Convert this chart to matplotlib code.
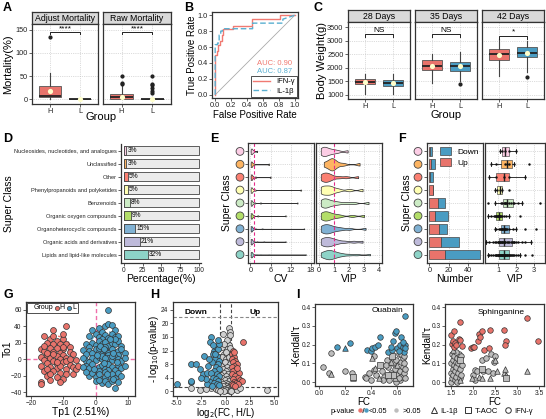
import numpy as np
import matplotlib
matplotlib.use("Agg")
import matplotlib.pyplot as plt
import matplotlib.transforms as mtransforms
from matplotlib.lines import Line2D
from matplotlib.patches import Ellipse
from matplotlib.legend_handler import HandlerTuple

plt.rcParams["font.family"] = ["Liberation Sans", "DejaVu Sans"]
plt.rcParams["font.size"] = 6

# ---------------- data ----------------
# A: mortality box summaries (H, L)
adjust_stats = [dict(whislo=0, q1=6, med=7, q3=28, whishi=57, fliers=[135], mean=19),
                dict(whislo=0, q1=0, med=0, q3=0, whishi=0, fliers=[], mean=0)]
raw_stats = [dict(whislo=0, q1=0.5, med=5, q3=11, whishi=29, fliers=[32, 35, 50], mean=5),
             dict(whislo=0, q1=0, med=0, q3=0, whishi=0, fliers=[14, 18, 25, 30, 33, 50], mean=1)]
mort_sig = ["****", "****"]

# B: ROC curves
ifn_fpr = [0, 0, 0.02, 0.02, 0.04, 0.04, 0.06, 0.06, 0.08, 0.08, 0.10, 0.10, 0.22, 0.22, 0.46, 0.46, 0.82, 0.82, 1.0]
ifn_tpr = [0, 0.50, 0.50, 0.55, 0.55, 0.62, 0.62, 0.68, 0.68, 0.75, 0.75, 0.83, 0.83, 0.87, 0.87, 0.95, 0.95, 1.0, 1.0]
il_fpr = [0, 0, 0.03, 0.03, 0.05, 0.05, 0.07, 0.07, 0.09, 0.09, 0.47, 0.47, 0.85, 0.85, 1.0]
il_tpr = [0, 0.63, 0.63, 0.65, 0.65, 0.75, 0.75, 0.80, 0.80, 0.83, 0.83, 0.90, 0.90, 0.95, 1.0]
auc_ifn, auc_il = 0.90, 0.87

# C: body weight box summaries per day (H, L)
days = ["28 Days", "35 Days", "42 Days"]
bw_stats = [
    [dict(whislo=1050, q1=1400, med=1480, q3=1600, whishi=1780, fliers=[], mean=1490),
     dict(whislo=1050, q1=1340, med=1450, q3=1560, whishi=1780, fliers=[], mean=1450)],
    [dict(whislo=1450, q1=1920, med=2070, q3=2270, whishi=2500, fliers=[], mean=2080),
     dict(whislo=1500, q1=1900, med=2050, q3=2220, whishi=2580, fliers=[1420], mean=2060)],
    [dict(whislo=1700, q1=2280, med=2500, q3=2680, whishi=3050, fliers=[], mean=2490),
     dict(whislo=1850, q1=2400, med=2560, q3=2750, whishi=3000, fliers=[1650], mean=2560)],
]
bw_sig = ["NS", "NS", "*"]

# D/E/F: super classes, bottom to top
classes = ["Lipids and lipid-like molecules", "Organic acids and derivatives",
           "Organoheterocyclic compounds", "Organic oxygen compounds", "Benzenoids",
           "Phenylpropanoids and polyketides", "Other", "Unclassified",
           "Nucleosides, nucleotides, and analogues"]
class_colors = ["#8DD3C7", "#BEBADA", "#80B1D3", "#B3DE69", "#CCEBC5",
                "#FFFFB3", "#FB8072", "#FDB462", "#FCCDE5"]
pct = [32, 21, 15, 9, 8, 5, 5, 3, 3]

cv_vals = [
    [0.1, 0.15, 0.2, 0.22, 0.25, 0.3, 0.3, 0.35, 0.4, 0.45, 0.5, 0.6, 0.7, 0.9, 1.2, 1.8, 3.0, 5.5, 16.5],
    [0.1, 0.15, 0.2, 0.25, 0.3, 0.35, 0.4, 0.5, 0.6, 0.8, 1.1, 2.0, 4.0, 10.5],
    [0.1, 0.15, 0.2, 0.25, 0.3, 0.35, 0.4, 0.5, 0.7, 0.9, 1.5, 3.5, 16.0],
    [0.1, 0.2, 0.25, 0.3, 0.4, 0.5, 0.7, 1.0, 2.2, 10.5],
    [0.1, 0.2, 0.25, 0.3, 0.4, 0.5, 0.8, 1.3, 3.0, 14.0],
    [0.1, 0.2, 0.3, 0.35, 0.4, 0.6, 0.9, 1.4, 15.0],
    [0.1, 0.2, 0.3, 0.4, 0.5, 0.8, 1.5, 6.0],
    [0.1, 0.2, 0.3, 0.4, 0.6, 1.0, 5.5],
    [0.1, 0.2, 0.3, 0.4, 0.5, 0.7, 1.0, 2.0],
]
vip_all = [
    [0.1, 0.2, 0.3, 0.4, 0.5, 0.55, 0.6, 0.7, 0.75, 0.8, 0.9, 1.0, 1.1, 1.2, 1.4, 1.6, 2.0, 2.5, 3.4],
    [0.1, 0.2, 0.3, 0.4, 0.5, 0.6, 0.7, 0.8, 0.9, 1.1, 1.3, 1.7, 2.3, 2.9],
    [0.1, 0.2, 0.3, 0.4, 0.5, 0.6, 0.7, 0.8, 1.0, 1.2, 1.5, 2.0, 3.1],
    [0.1, 0.2, 0.3, 0.4, 0.5, 0.6, 0.7, 0.9, 1.1, 1.4, 2.2, 3.0],
    [0.1, 0.2, 0.3, 0.4, 0.5, 0.6, 0.8, 1.0, 1.3, 1.8, 2.3, 3.3],
    [0.1, 0.2, 0.3, 0.45, 0.6, 0.7, 0.8, 1.0, 1.3, 2.0, 2.9],
    [0.1, 0.2, 0.3, 0.4, 0.5, 0.6, 0.7, 0.9, 1.3, 1.8, 2.6],
    [0.3, 0.5, 0.7, 0.8, 0.85, 0.9, 1.0, 1.2, 1.6, 2.7],
    [0.1, 0.2, 0.3, 0.4, 0.5, 0.7, 0.9, 1.2, 1.9],
]
n_up = [16, 12, 10, 6, 9, 4, 1, 2, 1]
n_down = [37, 19, 8, 13, 7, 0, 3, 4, 2]
vip_diff = [
    [0.4, 0.5, 0.6, 0.7, 0.8, 0.85, 0.9, 0.95, 1.0, 1.0, 1.05, 1.05, 1.1, 1.1, 1.15, 1.15, 1.2, 1.2, 1.2,
     1.25, 1.25, 1.3, 1.3, 1.35, 1.35, 1.4, 1.4, 1.45, 1.5, 1.5, 1.55, 1.6, 1.6, 1.65, 1.7, 1.75, 1.8,
     1.9, 2.0, 2.1, 2.2, 2.5, 2.9],
    [0.3, 0.5, 0.7, 0.8, 0.9, 1.0, 1.0, 1.05, 1.1, 1.1, 1.15, 1.2, 1.2, 1.25, 1.3, 1.35, 1.4, 1.5, 1.55,
     1.6, 1.7, 1.75, 1.8, 1.85, 1.9, 2.0, 2.1, 2.3, 2.5, 2.8],
    [0.8, 0.9, 1.05, 1.1, 1.15, 1.2, 1.2, 1.25, 1.3, 1.35, 1.4, 1.45, 1.5, 1.6, 1.8, 2.0, 2.5, 3.1],
    [0.4, 0.6, 0.75, 0.8, 0.85, 0.9, 0.95, 1.0, 1.0, 1.05, 1.1, 1.1, 1.15, 1.2, 1.3, 1.45, 1.6, 2.2],
    [0.4, 0.8, 1.15, 1.2, 1.3, 1.35, 1.4, 1.45, 1.5, 1.6, 1.7, 1.8, 1.9, 2.1, 2.3, 3.3],
    [0.8, 0.95, 1.1, 1.2, 1.6],
    [0.5, 0.9, 1.3, 1.6, 2.5],
    [0.6, 0.9, 1.4, 1.5, 1.6, 1.9, 2.7],
    [1.1, 1.2, 1.4, 1.6, 2.0],
]

# G: OPLS-DA scores
g_h = [(-13, 36), (-9, 40), (-16, 28), (-14, 25), (-10, 25), (-12, 22), (-15, 20), (-17, 12), (-13, 18),
       (-11, 19), (-9, 18), (-8, 15), (-14, 14), (-12, 13), (-10, 12), (-16, 10), (-13, 9), (-11, 8),
       (-8, 9), (-15, 5), (-17, 3), (-12, 4), (-10, 5), (-7, 6), (-14, 1), (-16, -1), (-13, -2), (-11, 0),
       (-9, 1), (-6, -1), (-15, -5), (-12, -6), (-10, -4), (-8, -7), (-17, -8), (-14, -10), (-12, -11),
       (-9, -12), (-7, -9), (-16, -15), (-13, -15), (-11, -17), (-9, -18), (-15, -20), (-12, -22),
       (-10, -24), (-14, -25), (-17, -28), (-11, -28), (-17, -30), (-7, -18), (-6, -12), (-5.5, -8),
       (-10, 30), (-15, -12), (-13, 6), (-11, -8), (-9, -2), (-16, 16), (-12, -3), (-14, -18), (-10, 15),
       (-8, 0), (-13, 28), (-15, 8)]
g_l = [(-1, 36), (1, 38), (3, 40), (4, 43), (5, 42), (2, 33), (6, 35), (4, 60),
       (-2, 28), (0, 30), (1, 27), (3, 29), (5, 30), (6, 27), (7, 28), (2, 25), (4, 26),
       (-3, 19), (-1, 20), (0, 17), (1, 22), (2, 18), (3, 21), (4, 16), (5, 20), (6, 18), (7, 22),
       (8, 16), (-2, 15), (3, 15), (6, 24),
       (-4, 11), (-2, 10), (-1, 7), (0, 12), (1, 9), (2, 6), (3, 11), (4, 8), (5, 12), (6, 7), (7, 10),
       (8, 12), (9, 7), (-3, 6), (1, 13), (4, 5), (7, 5),
       (-3, -2), (-1, 2), (0, -1), (1, 3), (2, 0), (3, -3), (4, 2), (5, -1), (6, 3), (7, 0), (8, -2),
       (-2, -4), (2, 4), (5, 4), (9, 1), (-4, 2), (3, 1),
       (-3, -8), (-2, -11), (-1, -6), (0, -13), (1, -9), (2, -7), (3, -12), (4, -6), (5, -10), (6, -13),
       (7, -7), (8, -11), (9, -8), (1, -14), (4, -13), (-4, -10),
       (-2, -20), (-1, -17), (0, -22), (1, -18), (2, -24), (3, -16), (4, -21), (5, -18), (6, -23),
       (7, -17), (8, -20), (3, -22), (-3, -16),
       (0, -27), (2, -29), (3, -26), (4, -30), (5, -27), (6, -35), (7, -28), (1, -25),
       (0.5, 5), (2.5, -5), (5.5, 8), (3.5, -18), (1.5, 16), (4.5, 24), (6.5, -3), (-0.5, -12),
       (2.5, 12), (5.5, -24)]
tp1_label = "Tp1 (2.51%)"

# H: volcano
v_gray = [(-0.3, 16.8), (0.4, 18.5), (0.45, 17.5), (0.5, 16.5), (0.3, 14), (0.4, 13.5), (0.2, 12.5),
          (-0.2, 11), (0.1, 10.5), (0.45, 11.5), (-0.4, 10), (0, 9.5), (0.3, 9), (-0.1, 8.5), (0.5, 8),
          (-0.5, 7.5), (0.2, 7), (-0.3, 6.5), (0.4, 6.2), (0, 6), (-0.2, 5.5), (0.3, 5), (-0.5, 4.8),
          (0.1, 4.5), (-0.35, 4), (0.5, 3.8), (0.2, 3.5), (-0.1, 3.2), (0.35, 3), (-0.45, 2.8), (0, 2.5),
          (0.25, 2.2), (-0.25, 2), (0.5, 1.8), (0.1, 1.6), (-0.3, 1.5), (0.4, 1.2), (-0.5, 1.0),
          (0.2, 0.9), (-0.1, 0.7), (0.3, 0.5), (-0.4, 0.4), (0, 0.3), (0.5, 0.2), (-0.2, 0.1),
          (-3.5, 1.0), (-2.6, 0.5), (4.3, 0.5), (-1.5, 1.0), (-1, 0.8), (-0.8, 0.4), (0.8, 0.6),
          (1.2, 0.3), (1.5, 1.0), (-2, 0.6), (0.6, 0.1), (-0.6, 0.2), (0.45, 12.8), (0.2, 15),
          (-0.4, 13), (0, 11.5), (0.35, 10.2), (-0.15, 13.8)]
v_down = [(-5, 2.2), (-3.6, 2.7), (-3.5, 3), (-3.6, 8), (-3, 8), (-2.6, 6.5), (-2.2, 10.5), (-1.5, 16),
          (-2.3, 5), (-1.9, 5.5), (-1.6, 14.5), (-1.2, 12), (-1.0, 13), (-0.8, 12.5), (-0.7, 14),
          (-1.3, 11), (-0.9, 10.5), (-1.1, 9.5), (-0.7, 9), (-1.4, 8.5), (-0.8, 8), (-1.8, 7.5),
          (-1.0, 7), (-0.65, 6.5), (-1.2, 6), (-1.5, 5.5), (-0.9, 5), (-0.7, 4.5), (-1.3, 4), (-1.0, 3.5),
          (-0.75, 3), (-1.6, 2.8), (-1.2, 2.5), (-0.85, 2), (-1.9, 2.2), (-0.7, 1.8), (-1.4, 1.6),
          (-2.0, 3.5), (-1.7, 9.5), (-1.1, 11), (-2.5, 4), (-0.8, 15), (-1.3, 13.5)]
v_up = [(1.8, 14.5), (0.8, 12), (0.7, 11), (0.9, 10), (0.65, 9.5), (1.0, 9), (0.75, 8.5), (1.2, 8),
        (0.9, 7.5), (0.7, 7), (1.1, 6.5), (0.8, 6), (1.4, 5.5), (0.7, 5), (1.0, 4.5), (1.3, 4), (0.8, 3.5),
        (1.5, 3.2), (1.7, 3), (0.9, 2.8), (1.1, 2.5), (0.7, 2.2), (1.3, 2), (0.8, 1.7), (1.0, 1.5),
        (1.2, 6.8), (0.85, 11.5)]
fc_cut, p_cut, p_top = 0.58, 1.3, 21.8

# I: correlation (x, y, marker)
i1_sig = [(0.66, 0.35, "o"), (0.14, 0.19, "o"), (0.24, 0.21, "o"), (0.2, 0.18, "^"), (0.37, 0.17, "o"),
          (0.40, 0.165, "o"), (0.41, 0.18, "o"), (0.43, 0.185, "o"), (0.45, 0.2, "o"), (0.47, 0.24, "o"),
          (0.53, 0.16, "o"), (0.56, 0.17, "o"), (0.57, 0.22, "o"), (0.58, 0.26, "o"), (0.59, 0.275, "o"),
          (0.60, 0.18, "o"), (0.62, 0.2, "o"), (0.63, 0.24, "o"), (0.64, 0.19, "o"), (0.65, 0.16, "o"),
          (0.66, 0.2, "o"), (0.66, 0.18, "o"), (0.55, 0.185, "o"), (0.61, 0.165, "o"), (0.64, 0.215, "o")]
i1_ns = [(0.03, 0.08, "o"), (0.08, 0.05, "o"), (0.09, 0.045, "^"), (0.09, 0.155, "o"), (0.2, 0.06, "o"),
         (0.25, 0.05, "o"), (0.26, 0.02, "^"), (0.26, 0.03, "s"), (0.35, 0.03, "o"), (0.36, 0.02, "o"),
         (0.38, 0.05, "o"), (0.40, 0.01, "o"), (0.41, 0.13, "^"), (0.42, 0.14, "o"), (0.43, 0.075, "^"),
         (0.44, 0.04, "o"), (0.42, 0.065, "o"), (0.46, 0.02, "^"), (0.47, 0.09, "s"), (0.48, 0.06, "o"),
         (0.5, 0.03, "o"), (0.52, 0.12, "o"), (0.53, 0.08, "o"), (0.54, 0.01, "o"), (0.55, 0.05, "o"),
         (0.56, 0.14, "s"), (0.57, 0.1, "o"), (0.58, 0.02, "^"), (0.58, 0.07, "o"), (0.59, 0.12, "o"),
         (0.6, 0.04, "o"), (0.6, 0.09, "^"), (0.61, 0.15, "o"), (0.62, 0.06, "o"), (0.62, 0.01, "o"),
         (0.63, 0.11, "o"), (0.63, 0.03, "o"), (0.64, 0.08, "o"), (0.64, 0.13, "o"), (0.65, 0.05, "o"),
         (0.65, 0.1, "o"), (0.66, 0.02, "o"), (0.66, 0.07, "o"), (0.55, 0.11, "^"), (0.57, 0.04, "s"),
         (0.59, 0.0, "o"), (0.61, 0.02, "o"), (0.53, 0.04, "s"), (0.51, 0.09, "o"), (0.49, 0.01, "o"),
         (0.63, 0.15, "o"), (0.65, 0.14, "o")]
i2_sig = [(1.5, 0.25, "o"), (1.52, 0.205, "o"), (1.55, 0.22, "o"), (1.57, 0.27, "o"), (1.58, 0.19, "o"),
          (1.6, 0.21, "o"), (1.62, 0.2, "o"), (1.68, 0.23, "o"), (1.7, 0.32, "o"), (1.72, 0.225, "o"),
          (1.75, 0.195, "o"), (1.95, 0.18, "o"), (2.0, 0.19, "o"), (2.03, 0.185, "o"), (2.12, 0.22, "o"),
          (2.15, 0.255, "o"), (2.2, 0.27, "o"), (2.17, 0.24, "o"), (2.25, 0.17, "o"), (2.38, 0.28, "o"),
          (2.37, 0.18, "o"), (2.7, 0.28, "o"), (2.75, 0.22, "o"), (2.73, 0.2, "o"), (3.22, 0.34, "o"),
          (3.48, 0.22, "o")]
i2_ns = [(1.5, 0.0, "o"), (1.5, 0.05, "o"), (1.5, 0.1, "o"), (1.52, 0.15, "o"), (1.53, 0.02, "o"),
         (1.54, 0.07, "o"), (1.55, 0.12, "o"), (1.56, 0.04, "o"), (1.57, 0.09, "o"), (1.58, 0.14, "o"),
         (1.59, 0.01, "o"), (1.6, 0.06, "o"), (1.61, 0.11, "o"), (1.62, 0.03, "o"), (1.63, 0.08, "o"),
         (1.64, 0.13, "o"), (1.65, 0.0, "o"), (1.66, 0.05, "o"), (1.67, 0.1, "o"), (1.68, 0.15, "o"),
         (1.7, 0.02, "o"), (1.7, 0.07, "o"), (1.72, 0.12, "s"), (1.73, 0.04, "o"), (1.74, 0.14, "o"),
         (1.75, 0.09, "o"), (1.72, 0.01, "^"), (1.98, 0.02, "^"), (2.0, 0.04, "o"), (2.05, 0.065, "o"),
         (2.1, 0.06, "o"), (2.15, 0.03, "^"), (2.2, 0.07, "s"), (2.2, 0.12, "o"), (2.22, 0.06, "o"),
         (2.3, 0.13, "o"), (2.35, 0.06, "o"), (2.4, 0.15, "o"), (2.45, 0.05, "o"), (2.5, 0.14, "o"),
         (2.55, 0.06, "^"), (2.7, 0.05, "^"), (2.73, 0.07, "^"), (2.75, 0.02, "s"), (2.75, 0.04, "^"),
         (3.22, 0.06, "^"), (2.2, 0.02, "^"), (2.38, 0.02, "^"), (2.5, 0.12, "^"), (2.48, 0.11, "o"),
         (2.05, 0.01, "o"), (1.62, 0.16, "o"), (1.55, 0.17, "^")]
i1_note = (0.66, 0.35, "Ouabain")
i2_note = (3.22, 0.34, "Sphinganine")

# ---------------- style ----------------
RED = "#E8736B"
BLUE = "#4A9CC2"
GRAYPT = "#BDBDBD"
EDGE = "#333333"
MEANC = "#FFFFCC"

fig = plt.figure(figsize=(5.46, 4.19), dpi=100)
FW, FH = 546, 419


def ax_at(x0, y0, x1, y1):
    return fig.add_axes([x0 / FW, 1 - y1 / FH, (x1 - x0) / FW, (y1 - y0) / FH])


def style(ax, grid=True):
    for s in ax.spines.values():
        s.set_color(EDGE)
        s.set_linewidth(0.9)
    ax.tick_params(length=2, width=0.5, labelsize=5.3, pad=1.2, colors="#222222")
    if grid:
        ax.grid(True, ls=":", lw=0.5, color="#BBBBBB")
        ax.set_axisbelow(True)


def ylab_at(ax, text, xpix, size=8):
    # y-axis title centred at an absolute pixel x
    p = ax.get_position()
    ax.set_ylabel(text, fontsize=size, va="center")
    ax.yaxis.set_label_coords((xpix - p.x0 * FW) / (p.width * FW), 0.5)


def xlab_at(ax, text, ypix, size=8):
    # x-axis title centred at an absolute pixel y
    p = ax.get_position()
    ax.set_xlabel(text, fontsize=size, va="center")
    ybot = (1 - p.y0) * FH
    ax.xaxis.set_label_coords(0.5, -(ypix - ybot) / (p.height * FH))


def strip(x0, y0, x1, y1, text):
    s = ax_at(x0, y0, x1, y1)
    s.set_facecolor("#D9D9D9")
    s.set_xticks([])
    s.set_yticks([])
    for sp in s.spines.values():
        sp.set_color(EDGE)
        sp.set_linewidth(0.9)
    s.text(0.5, 0.45, text, ha="center", va="center", fontsize=6.3, transform=s.transAxes)


def label(x, y, t):
    fig.text(x / FW, 1 - y / FH, t, fontsize=9, fontweight="bold", va="top", ha="left")


def boxes(ax, stats, colors):
    bp = ax.bxp(stats, positions=[1, 2], widths=0.72, patch_artist=True,
                medianprops=dict(color="#222222", lw=1.3),
                whiskerprops=dict(color="#444444", lw=0.8),
                capprops=dict(lw=0),
                boxprops=dict(lw=0.6),
                flierprops=dict(marker="o", ms=2, mfc="#222222", mec="#222222"))
    for p, c in zip(bp["boxes"], colors):
        p.set_facecolor(c)
        p.set_edgecolor("#555555")
    ax.scatter([1, 2], [s["mean"] for s in stats], s=14, color=MEANC, zorder=5, lw=0)


def bracket(ax, y, d, text):
    ax.plot([1, 1, 2, 2], [y - d, y, y, y - d], color="#222222", lw=0.7)
    ax.text(1.5, y, text, ha="center", va="bottom", fontsize=6)


# ---------------- A ----------------
label(3, 2, "A")
for k, (x0, x1, st, title) in enumerate([(32, 98, adjust_stats, "Adjust Mortality"),
                                         (103, 171, raw_stats, "Raw Mortality")]):
    strip(x0, 12, x1, 24, title)
    ax = ax_at(x0, 24, x1, 104)
    style(ax)
    boxes(ax, st, [RED, BLUE])
    bracket(ax, 145, 5, mort_sig[k])
    ax.set_xlim(0.4, 2.6)
    ax.set_ylim(-10, 162)
    ax.set_xticks([1, 2], ["H", "L"])
    ax.set_yticks([0, 50, 100, 150])
    if k == 0:
        ylab_at(ax, "Mortality(%)", 8)
    else:
        ax.set_yticklabels([])
        ax.tick_params(axis="y", length=0)
fig.text(101 / FW, 1 - 117 / FH, "Group", ha="center", va="center", fontsize=8)

# ---------------- B ----------------
label(184, 2, "B")
ax = ax_at(212, 12, 298, 98)
style(ax, grid=False)
ax.plot([0, 1], [0, 1], color="#AAAAAA", lw=0.6)
ax.plot(ifn_fpr, ifn_tpr, color="#F07A72", lw=1.0, label="IFN-γ")
ax.plot(il_fpr, il_tpr, color="#5AAFD0", lw=1.0, ls=(0, (4, 2)), label="IL-1β")
ax.set_xlim(-0.04, 1.04)
ax.set_ylim(-0.04, 1.04)
ticks01 = np.arange(0, 1.01, 0.2)
ax.set_xticks(ticks01, [f"{v:.1f}" for v in ticks01])
ax.set_yticks(ticks01, [f"{v:.1f}" for v in ticks01])
ax.text(0.97, 0.37, f"AUC: {auc_ifn:.2f}", color="#F07A72", ha="right", fontsize=5.5)
ax.text(0.97, 0.28, f"AUC: {auc_il:.2f}", color="#5AAFD0", ha="right", fontsize=5.5)
lg = ax.legend(loc="lower right", fontsize=5.5, frameon=True, fancybox=False, handlelength=2.2,
               borderpad=0.3, labelspacing=0.3, borderaxespad=0.1)
lg.get_frame().set_edgecolor("#222222")
lg.get_frame().set_linewidth(0.7)
xlab_at(ax, "False Positive Rate", 115, 7)
ylab_at(ax, "True Positive Rate", 192, 7)

# ---------------- C ----------------
label(314, 2, "C")
for k, (x0, x1) in enumerate([(348, 410), (415, 477), (482, 544)]):
    strip(x0, 10, x1, 22, days[k])
    ax = ax_at(x0, 22, x1, 99)
    style(ax)
    boxes(ax, bw_stats[k], [RED, BLUE])
    bracket(ax, 3250 if k < 2 else 3180, 100, bw_sig[k])
    ax.set_xlim(0.4, 2.6)
    ax.set_ylim(850, 3690)
    ax.set_xticks([1, 2], ["H", "L"])
    ax.set_yticks([1000, 1500, 2000, 2500, 3000, 3500])
    if k == 0:
        ylab_at(ax, "Body Weight(g)", 322)
    else:
        ax.set_yticklabels([])
        ax.tick_params(axis="y", length=0)
fig.text(446 / FW, 1 - 115 / FH, "Group", ha="center", va="center", fontsize=8)

# ---------------- D ----------------
label(3, 133, "D")
pos = np.arange(len(classes))
ax = ax_at(121, 144, 201, 263)
style(ax, grid=False)
for s in ["top", "right"]:
    ax.spines[s].set_visible(False)
ax.barh(pos, [100] * len(pos), height=0.72, color="#EBEBEB", edgecolor="#444444", lw=0.6)
ax.barh(pos, pct, height=0.72, color=class_colors, edgecolor="#444444", lw=0.6)
for p, v in zip(pos, pct):
    ax.text(v + 1.5, p, f"{v}%", va="center", fontsize=4.8)
ax.set_xlim(-4, 103)
ax.set_ylim(-0.65, 8.5)
ax.set_yticks(pos, classes)
ax.tick_params(axis="y", labelsize=4.1, pad=1)
ax.set_xticks([0, 25, 50, 75, 100])
ax.tick_params(axis="x", labelsize=4.8, pad=1)
xlab_at(ax, "Percentage(%)", 279, 7.5)
ylab_at(ax, "Super Class", 9, 7.5)


def class_dots(ax, xpix):
    tr = mtransforms.blended_transform_factory(ax.transAxes, ax.transData)
    x_ax = (xpix - ax.get_position().x0 * FW) / (ax.get_position().width * FW)
    ax.scatter([x_ax] * len(pos), pos, s=32, c=class_colors, edgecolors="#444444", lw=0.6,
               transform=tr, clip_on=False, zorder=5)
    ax.set_yticks(pos, [""] * len(pos))


# ---------------- E ----------------
label(210, 133, "E")
axc = ax_at(248, 143, 314, 263)
style(axc)
for i, vals in enumerate(cv_vals):
    vp = axc.violinplot([vals], positions=[i], orientation="horizontal", widths=0.45,
                        showextrema=False, bw_method=0.18 / np.std(vals, ddof=1))
    for b in vp["bodies"]:
        b.set_facecolor(class_colors[i])
        b.set_edgecolor("#333333")
        b.set_linewidth(0.5)
        b.set_alpha(1)
axc.axvline(1, color="#E7298A", ls=(0, (3, 2)), lw=0.8)
axc.set_xlim(-0.7, 18.9)
axc.set_ylim(-0.65, 8.65)
axc.set_xticks([0, 6, 12, 18])
xlab_at(axc, "CV", 279, 7.5)
ylab_at(axc, "Super Class", 227, 7.5)
class_dots(axc, 240)

axv = ax_at(316, 143, 382, 263)
style(axv)
for i, vals in enumerate(vip_all):
    vp = axv.violinplot([vals], positions=[i], orientation="horizontal",
                        widths=0.95 if i == 7 else 0.72,
                        showextrema=False, bw_method=0.2 / np.std(vals, ddof=1))
    for b in vp["bodies"]:
        b.set_facecolor(class_colors[i])
        b.set_edgecolor("#333333")
        b.set_linewidth(0.5)
        b.set_alpha(1)
axv.axvline(1, color="#E7298A", ls=(0, (3, 2)), lw=0.8)
axv.set_xlim(-0.22, 4.2)
axv.set_ylim(-0.65, 8.65)
axv.set_xticks([0, 1, 2, 3, 4])
axv.set_yticks(pos, [""] * len(pos))
axv.tick_params(axis="y", length=0)
xlab_at(axv, "VIP", 279, 7.5)

# ---------------- F ----------------
label(398, 133, "F")
axn = ax_at(427, 143, 483, 263)
style(axn)
axn.barh(pos, n_up, height=0.75, color=RED, edgecolor="#444444", lw=0.5, label="Up")
axn.barh(pos, n_down, left=n_up, height=0.75, color=BLUE, edgecolor="#444444", lw=0.5, label="Down")
axn.set_xlim(-2.4, 55.7)
axn.set_ylim(-0.65, 8.65)
axn.set_xticks([0, 20, 40])
xlab_at(axn, "Number", 279, 7.5)
ylab_at(axn, "Super Class", 407, 7.5)
h, l = axn.get_legend_handles_labels()
axn.legend(h[::-1], l[::-1], loc="upper right", fontsize=6, frameon=False, handlelength=1.3,
           handleheight=1.1, borderaxespad=0.1, labelspacing=0.3)
class_dots(axn, 418)

axf = ax_at(485, 143, 545, 263)
style(axf)
bp = axf.boxplot(vip_diff, positions=pos, orientation="horizontal", widths=0.65, patch_artist=True,
                 showfliers=False, medianprops=dict(color="#222222", lw=1.0),
                 whiskerprops=dict(color="#333333", lw=0.7), capprops=dict(color="#333333", lw=0.7),
                 boxprops=dict(lw=0.5))
for b, c in zip(bp["boxes"], class_colors):
    b.set_facecolor(c)
    b.set_edgecolor("#555555")
for i, vals in enumerate(vip_diff):
    axf.scatter(vals, [i] * len(vals), s=3, color="#111111", zorder=4, lw=0)
axf.set_xlim(0.26, 3.6)
axf.set_ylim(-0.65, 8.65)
axf.set_xticks([1, 2, 3])
axf.set_yticks(pos, [""] * len(pos))
axf.tick_params(axis="y", length=0)
xlab_at(axf, "VIP", 279, 7.5)

# ---------------- G ----------------
label(3, 289, "G")
ax = ax_at(26, 302, 135, 396)
style(ax, grid=False)
ax.tick_params(labelsize=4.8)
gh = np.array(g_h)
gl = np.array(g_l)
for pts, c in [(gh, RED), (gl, BLUE)]:
    m = pts.mean(axis=0)
    ev, evec = np.linalg.eigh(np.cov(pts.T))
    ang = np.degrees(np.arctan2(evec[1, 1], evec[0, 1]))
    w, hgt = 2 * 1.6 * np.sqrt(ev[1]), 2 * 1.6 * np.sqrt(ev[0])
    ax.add_patch(Ellipse(m, w, hgt, angle=ang, fill=False, ec=c, lw=1.0, ls=(0, (5, 3)), zorder=1))
ax.axhline(0, color="#F06EAA", ls=(0, (3, 2)), lw=1.0, zorder=0)
ax.axvline(0, color="#F06EAA", ls=(0, (3, 2)), lw=1.0, zorder=0)
sh = ax.scatter(gh[:, 0], gh[:, 1], s=18, color=RED, edgecolors="#333333", lw=0.5, zorder=3)
sl = ax.scatter(gl[:, 0], gl[:, 1], s=18, color=BLUE, edgecolors="#333333", lw=0.5, zorder=3)
ax.set_xlim(-21.5, 12.2)
ax.set_ylim(-44.8, 69.5)
ax.set_xticks([-20, -10, 0, 10])
ax.set_yticks([-40, -20, 0, 20, 40, 60])
xlab_at(ax, tp1_label, 412, 7.5)
ylab_at(ax, "To1", 8, 7.5)
lg = ax.legend([Line2D([], [], ls="none"), sh, sl], ["Group", "H", "L"], ncol=3, loc="upper left",
               fontsize=5, frameon=True, fancybox=False, handlelength=0.6, handletextpad=0.1,
               columnspacing=0.3, borderpad=0.25, borderaxespad=0.1, markerscale=0.7)
lg.get_frame().set_edgecolor("#222222")
lg.get_frame().set_linewidth(0.7)

# ---------------- H ----------------
label(150, 289, "H")
ax = ax_at(173, 302, 278, 396)
style(ax, grid=False)
ax.tick_params(labelsize=4.8)
for pts, c in [(v_gray, "#D0D0D0"), (v_down, BLUE), (v_up, RED)]:
    a = np.array(pts)
    ax.scatter(a[:, 0], a[:, 1], s=18, color=c, edgecolors="#333333", lw=0.5, zorder=3)
for x in (-fc_cut, fc_cut):
    ax.axvline(x, color="#444444", ls=(0, (3, 2)), lw=0.8, zorder=1)
ax.axhline(p_cut, color="#444444", ls=(0, (3, 2)), lw=0.8, zorder=1)
ax.axhline(p_top, color="#888888", ls=(0, (3, 2)), lw=0.8, zorder=1)
ax.text(-3.0, 23.2, "Down", ha="center", va="center", fontsize=6, fontweight="bold")
ax.text(3.0, 23.2, "Up", ha="center", va="center", fontsize=6, fontweight="bold")
ax.set_xlim(-5.4, 5.4)
ax.set_ylim(-1.4, 26.3)
ax.set_xticks([-5, -2.5, 0, 2.5, 5], ["-5.0", "-2.5", "0.0", "2.5", "5.0"])
ax.set_yticks([0, 4, 8, 12, 16, 20, 24])
xlab_at(ax, "log$_2$(FC, H/L)", 413, 7)
ylab_at(ax, "- log$_{10}$(p-value)", 154, 7)

# ---------------- I ----------------
label(296, 289, "I")
for k, (x0, x1, sig, ns, sigc, note, xl, xt, yl, ylx) in enumerate([
        (315, 413, i1_sig, i1_ns, BLUE, i1_note, (-0.03, 0.72), [0.0, 0.2, 0.4, 0.6], "-Kendall'τ", 297),
        (445, 544, i2_sig, i2_ns, RED, i2_note, (1.37, 3.61), [1.5, 2.0, 2.5, 3.0, 3.5], "Kendall'τ", 427)]):
    ax = ax_at(x0, 304, x1, 386)
    style(ax, grid=False)
    ax.tick_params(labelsize=4.8)
    for pts, c in [(ns, GRAYPT), (sig, sigc)]:
        for mk in ["o", "^", "s"]:
            sel = [(x, y) for x, y, m in pts if m == mk]
            if sel:
                a = np.array(sel)
                ax.scatter(a[:, 0], a[:, 1], s=16, marker=mk, color=c, edgecolors="#333333",
                           lw=0.5, zorder=3)
    ax.text(note[0] - 0.02 * (xl[1] - xl[0]), note[1] + 0.012, note[2], ha="right", va="bottom",
            fontsize=6)
    ax.set_xlim(*xl)
    ax.set_ylim(-0.02, 0.416)
    ax.set_xticks(xt, [f"{v:.1f}" for v in xt])
    ax.set_yticks([0, 0.1, 0.2, 0.3, 0.4], ["0.0", "0.1", "0.2", "0.3", "0.4"])
    xlab_at(ax, "FC", 401.5, 7)
    ylab_at(ax, yl, ylx, 7)
    if k == 0:
        r = Line2D([], [], ls="none", marker="o", ms=3.2, mfc=RED, mec="none")
        sl_ = Line2D([], [], ls="none", marker="$/$", ms=3.5, mfc="#222222", mec="#222222", mew=0.2)
        b = Line2D([], [], ls="none", marker="o", ms=3.2, mfc=BLUE, mec="none")
        gr = Line2D([], [], ls="none", marker="o", ms=3.2, mfc=GRAYPT, mec="none")
        ax.legend([Line2D([], [], ls="none"), (r, sl_, b), gr], ["p-value", "<0.05", ">0.05"],
                  handler_map={tuple: HandlerTuple(ndivide=None, pad=0.0)}, ncol=3,
                  loc="center", bbox_to_anchor=(0.56, -0.31), fontsize=5.3, frameon=False,
                  handlelength=1.3, handletextpad=0.2, columnspacing=0.5, borderpad=0.1)
    else:
        hs = [Line2D([], [], ls="none", marker=m, ms=4, mfc="none", mec="#333333", mew=0.7)
              for m in ["^", "s", "o"]]
        ax.legend(hs, ["IL-1β", "T-AOC", "IFN-γ"], ncol=3, loc="center",
                  bbox_to_anchor=(0.37, -0.31), fontsize=5.5, frameon=False, handlelength=1.0,
                  handletextpad=0.3, columnspacing=0.9, borderpad=0.1)

fig.savefig("out.png", dpi=100)
